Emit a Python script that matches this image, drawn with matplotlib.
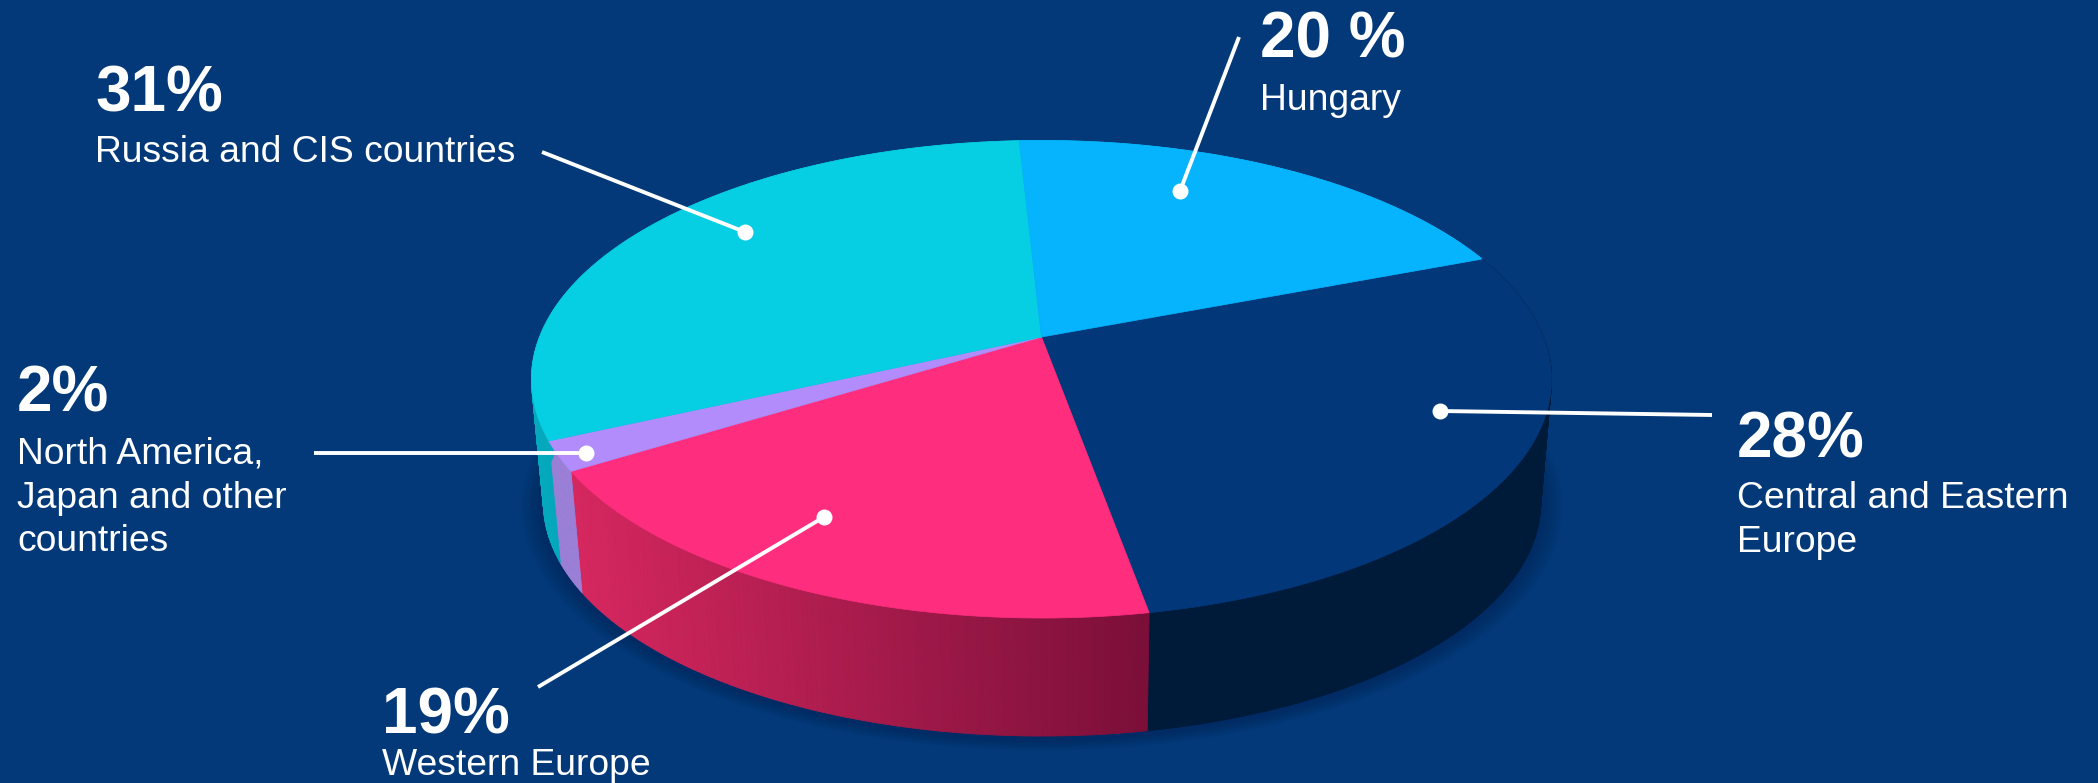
import numpy as np
import matplotlib
matplotlib.use('Agg')
import matplotlib.pyplot as plt
from matplotlib.collections import PolyCollection
from matplotlib.colors import to_rgb

# Data, clockwise from the Hungary / Central Europe edge
shares = [28, 19, 2, 31, 20]
heads = ['28%', '19%', '2%', '31%', '20 %']
names = ['Central and Eastern\nEurope', 'Western Europe',
         'North America,\nJapan and other\ncountries', 'Russia and CIS countries', 'Hungary']
top_colors = ['#02377a', '#ff2d7e', '#b18cfa', '#06cee3', '#06b3fd']
wall_left = ['#001835', '#d6275f', '#9c80d8', '#05a9bd', '#05a0d8']
wall_right = ['#001a3a', '#7a0f38', '#9c80d8', '#05a9bd', '#05a0d8']

head_pos = [(1737, 457), (382, 733), (17, 412), (95, 112), (1260, 58)]
name_pos = [(1737, 508), (382, 775), (17, 464), (95, 162), (1260, 110)]
leader_from = [(1712, 415), (538, 687), (314, 453), (542, 152), (1239, 37)]
leader_to = [(1440, 411), (824, 517), (586, 453), (745, 232), (1180, 191)]

BG = '#033979'
START = 21.0
CX, CY, RX, RY, K = 1041.5, 337.0, 502.0, 231.3, 0.177
VX, VY, DROP = 1064.0, 5862.0, 0.9775


# tilted disc: unit circle seen in perspective
def top_xy(theta):
    t = np.radians(theta)
    w = 1 + K * np.sin(t)
    return CX + RX * np.cos(t) / w, CY - RY * np.sin(t) / w


# lower rim of the disc is the top rim pulled toward the vanishing point
def low_xy(theta):
    x, y = top_xy(theta)
    return VX + (x - VX) * DROP, VY + (y - VY) * DROP


fig = plt.figure(figsize=(20.98, 7.83), dpi=100, facecolor=BG)
ax = fig.add_axes([0, 0, 1, 1])
ax.set_xlim(0, 2098)
ax.set_ylim(783, 0)
ax.axis('off')
plt.rcParams['font.family'] = ['Liberation Sans', 'DejaVu Sans']

edges = START - np.cumsum([0] + shares) * 3.6

# soft shadow under the disc
arc = np.linspace(0, 360, 361)
lx, ly = low_xy(arc)
mx, my = lx.mean(), ly.mean()
for grow in np.linspace(1.045, 1.004, 14):
    ax.fill(mx + (lx - mx) * grow, my + 3 + (ly - my) * grow, color='#01294f', alpha=0.035, lw=0, zorder=1)

# side walls, thin strips so the shading can change along x
quads, cols = [], []
x_min, x_max = 574.0, 1150.0
for i in range(len(shares)):
    steps = np.linspace(edges[i], edges[i + 1], max(int(abs(shares[i]) * 6), 6))
    c0, c1 = np.array(to_rgb(wall_left[i])), np.array(to_rgb(wall_right[i]))
    for a, b in zip(steps[:-1], steps[1:]):
        xa, ya = top_xy(a)
        xb, yb = top_xy(b)
        xc, yc = low_xy(b)
        xd, yd = low_xy(a)
        quads.append([(xa, ya), (xb, yb), (xc, yc), (xd, yd)])
        f = np.clip(((xa + xb) / 2 - x_min) / (x_max - x_min), 0, 1)
        cols.append(c0 + (c1 - c0) * f)
ax.add_collection(PolyCollection(quads, facecolors=cols, edgecolors=cols, linewidths=0.6, zorder=2))

# top faces
for i in range(len(shares)):
    a = np.linspace(edges[i], edges[i + 1], 200)
    x, y = top_xy(a)
    ax.fill(np.r_[CX, x], np.r_[CY, y], color=top_colors[i], ec=top_colors[i], lw=0.5, zorder=3)

# faint rim on the dark slice
a = np.linspace(edges[0], -2, 100)
ax.plot(*top_xy(a), color='#023470', lw=1, zorder=3)

# leaders and labels
for i in range(len(shares)):
    ax.plot([leader_from[i][0], leader_to[i][0]], [leader_from[i][1], leader_to[i][1]],
            color='white', lw=2.8, solid_capstyle='butt', zorder=4)
    ax.plot(*leader_to[i], 'o', color='white', ms=11.5, mew=0, zorder=5)
    ax.text(*head_pos[i], heads[i], color='white', fontsize=46, fontweight='bold', ha='left', va='baseline')
    ax.text(name_pos[i][0], name_pos[i][1], names[i].split('\n')[0], color='white', fontsize=26.8, ha='left', va='baseline')
    for j, extra in enumerate(names[i].split('\n')[1:], 1):
        ax.text(name_pos[i][0], name_pos[i][1] + j * 43.5, extra, color='white', fontsize=26.8, ha='left', va='baseline')

fig.savefig('out.png', dpi=100, facecolor=BG)
